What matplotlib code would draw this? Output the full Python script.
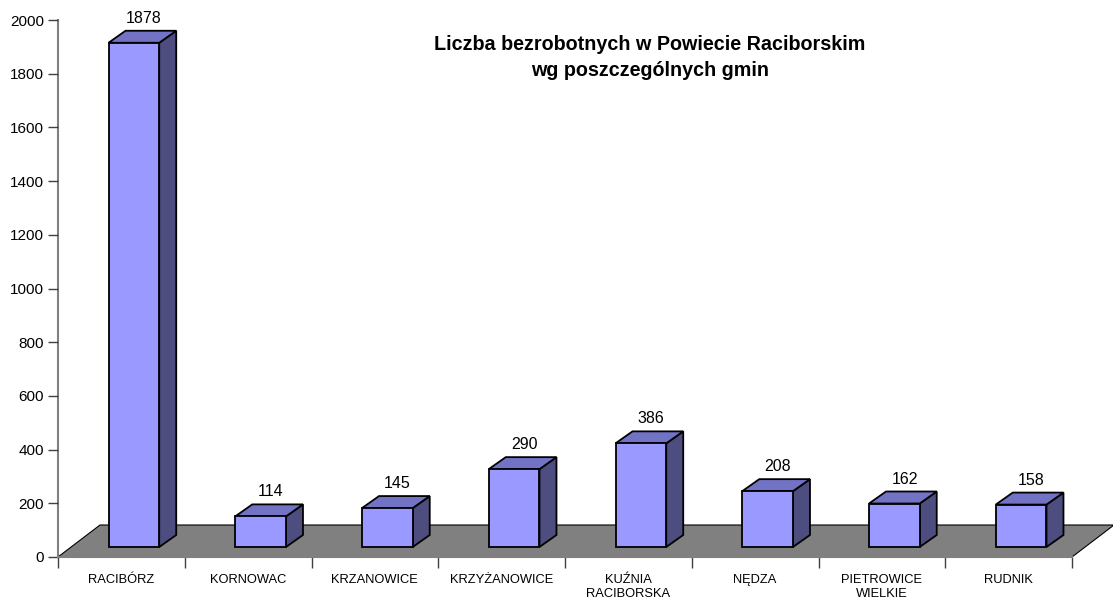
import matplotlib
matplotlib.use("Agg")
import matplotlib.pyplot as plt
from matplotlib.patches import Polygon
from matplotlib.ticker import FixedLocator, NullFormatter, FixedFormatter

plt.rcParams['font.family'] = ['Liberation Sans', 'DejaVu Sans']

categories = ["RACIBÓRZ", "KORNOWAC", "KRZANOWICE", "KRZYŻANOWICE",
              "KUŹNIA\nRACIBORSKA", "NĘDZA", "PIETROWICE\nWIELKIE", "RUDNIK"]
values = [1878, 114, 145, 290, 386, 208, 162, 158]
yticks = [0, 200, 400, 600, 800, 1000, 1200, 1400, 1600, 1800, 2000]
title = "Liczba bezrobotnych w Powiecie Raciborskim\nwg poszczególnych gmin"

W, H = 1113, 601
fig = plt.figure(figsize=(W / 100, H / 100), dpi=100)

# front plane of the plot: pixels
x0p, x1p, y0p, y1p = 58, 1072, 557, 20
ax = fig.add_axes([x0p / W, (H - y0p) / H, (x1p - x0p) / W, (y0p - y1p) / H])
n = len(categories)
ax.set_xlim(0, n)
ax.set_ylim(0, 2000)

px_per_cat = (x1p - x0p) / n
px_per_val = (y0p - y1p) / 2000.0

# depth offsets (pixels -> data)
fdx, fdy = 42 / px_per_cat, 32 / px_per_val      # floor depth
bdx, bdy = 17 / px_per_cat, 12 / px_per_val      # bar depth
ox, oy = (fdx - bdx) / 2, (fdy - bdy) / 2        # bar offset inside floor
bw = 0.40

front_c = '#9999FF'
top_c = '#7373C6'
side_c = '#4D4D80'
floor_c = '#808080'

floor = Polygon([(0, 0), (n, 0), (n + fdx, fdy), (fdx, fdy)], closed=True,
                facecolor=floor_c, edgecolor='black', linewidth=0.8,
                clip_on=False, zorder=1)
ax.add_patch(floor)

for i, v in enumerate(values):
    xl = i + 0.5 - bw / 2 + ox
    xr = xl + bw
    yb = oy
    yt = oy + v
    front = Polygon([(xl, yb), (xr, yb), (xr, yt), (xl, yt)], closed=True,
                    facecolor=front_c, edgecolor='black', linewidth=1.3,
                    clip_on=False, zorder=3, joinstyle='miter')
    top = Polygon([(xl, yt), (xr, yt), (xr + bdx, yt + bdy), (xl + bdx, yt + bdy)],
                  closed=True, facecolor=top_c, edgecolor='black', linewidth=1.3,
                  clip_on=False, zorder=3)
    side = Polygon([(xr, yb), (xr + bdx, yb + bdy), (xr + bdx, yt + bdy), (xr, yt)],
                   closed=True, facecolor=side_c, edgecolor='black', linewidth=1.3,
                   clip_on=False, zorder=3)
    for p in (side, top, front):
        ax.add_patch(p)
    ax.annotate(str(v), xy=(xl + bw / 2 + bdx * 0.6, yt + bdy), xytext=(0, 5),
                textcoords='offset pixels', ha='center', va='bottom',
                fontsize=11.5, color='black', zorder=4, annotation_clip=False)

# axes styling
for s in ('top', 'right'):
    ax.spines[s].set_visible(False)
ax.spines['left'].set_color('#808080')
ax.spines['left'].set_linewidth(1.5)
ax.spines['bottom'].set_color('#808080')
ax.spines['bottom'].set_linewidth(1.5)
ax.spines['left'].set_zorder(0.5)
ax.spines['bottom'].set_zorder(2)

ax.set_yticks(yticks)
ax.set_yticklabels([str(t) for t in yticks], fontsize=11)
ax.tick_params(axis='y', length=7, width=1, color='#404040', pad=3)

ax.xaxis.set_major_locator(FixedLocator(list(range(n + 1))))
ax.xaxis.set_major_formatter(NullFormatter())
ax.xaxis.set_minor_locator(FixedLocator([i + 0.5 for i in range(n)]))
ax.xaxis.set_minor_formatter(FixedFormatter(categories))
ax.tick_params(axis='x', which='major', length=8, width=1, color='#404040')
ax.tick_params(axis='x', which='minor', length=0, pad=12, labelsize=9.3)
for lbl in ax.xaxis.get_minorticklabels():
    lbl.set_multialignment('center')
    lbl.set_linespacing(1.3)

ax.patch.set_visible(False)

fig.text(650 / W, 1 - 35 / H, title, ha='center', va='top', fontsize=14.2,
         fontweight='bold', linespacing=1.5)

fig.savefig('out.png', dpi=100)
